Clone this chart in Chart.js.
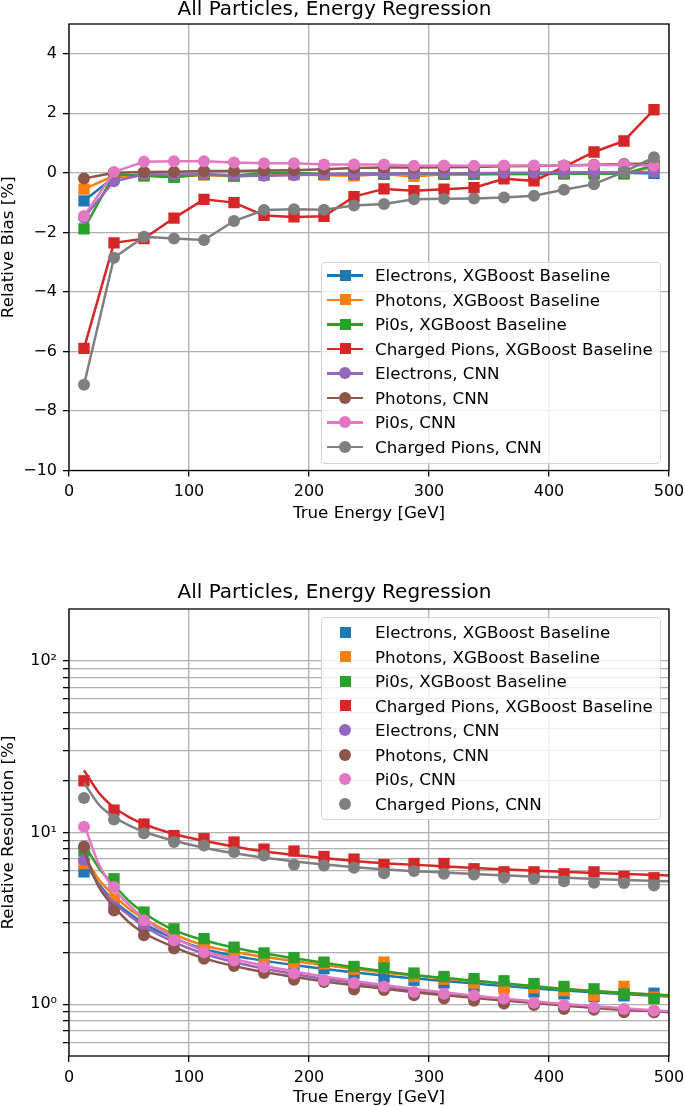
<!DOCTYPE html>
<html>
<head>
<meta charset="utf-8">
<script src="https://cdn.jsdelivr.net/npm/chart.js@4.4.1/dist/chart.umd.min.js"></script>
<style>
  body { margin: 0; background: #fff; width: 685px; height: 1107px; overflow: hidden; position: relative; font-family: 'DejaVu Sans', sans-serif; }
  canvas { position: absolute; left: 0; }
  .legend { position: absolute; left: 321px; width: 338px; border: 1px solid #d4d4d4; border-radius: 4px; background: rgba(255,255,255,0.8); }
  .row { position: absolute; left: 0; width: 100%; height: 24px; }
  .row .ln { position: absolute; left: 5px; top: 11px; width: 36px; height: 2.5px; }
  .row .mk { position: absolute; }
  .row .tx { position: absolute; left: 53px; top: 0; line-height: 24px; font-size: 16.7px; color: #000; white-space: nowrap; }
</style>
</head>
<body>
<canvas id="biasChart" width="685" height="527" style="top:0"></canvas>
<canvas id="resChart" width="685" height="538" style="top:570px"></canvas>
<div class="legend" id="biasLegend" style="top:262px;height:200px"></div>
<div class="legend" id="resLegend" style="top:617px;height:201px"></div>
<script>
// energy bins (GeV)
const energyBins = [12.5, 37.5, 62.5, 87.5, 112.5, 137.5, 162.5, 187.5, 212.5, 237.5,
                    262.5, 287.5, 312.5, 337.5, 362.5, 387.5, 412.5, 437.5, 462.5, 487.5];

const seriesLabels = ['Electrons, XGBoost Baseline', 'Photons, XGBoost Baseline', 'Pi0s, XGBoost Baseline',
                      'Charged Pions, XGBoost Baseline', 'Electrons, CNN', 'Photons, CNN', 'Pi0s, CNN', 'Charged Pions, CNN'];
const seriesColors = ['#1f77b4', '#ff7f0e', '#2ca02c', '#d62728', '#9467bd', '#8c564b', '#e377c2', '#7f7f7f'];
const seriesMarkers = ['rect', 'rect', 'rect', 'rect', 'circle', 'circle', 'circle', 'circle'];

// relative bias [%]
const biasElecXgb = [-0.94, -0.15, -0.05, -0.1, -0.05, -0.12, -0.08, -0.06, -0.05, -0.03, -0.03, -0.02, -0.03, -0.02, -0.02, -0.01, 0, 0, 0, -0.02];
const biasPhotXgb = [-0.55, -0.1, -0.1, -0.12, -0.08, -0.1, -0.05, -0.05, -0.08, -0.1, -0.05, -0.12, -0.05, -0.05, -0.05, -0.05, -0.03, -0.03, -0.03, 0.2];
const biasPi0Xgb = [-1.88, -0.05, -0.1, -0.15, -0.05, -0.1, 0.0, 0.0, -0.05, -0.05, -0.05, -0.02, -0.05, -0.05, -0.03, -0.03, -0.03, -0.03, -0.03, 0.25];
const biasPionXgb = [-5.9, -2.35, -2.21, -1.52, -0.89, -1.0, -1.43, -1.48, -1.46, -0.8, -0.54, -0.6, -0.55, -0.5, -0.2, -0.27, 0.2, 0.7, 1.07, 2.12];
const biasElecCnn = [-1.5, -0.28, -0.06, -0.06, -0.05, -0.08, -0.1, -0.08, -0.05, -0.04, -0.03, -0.02, -0.01, -0.01, 0, 0, 0.01, 0.02, 0.02, 0.03];
const biasPhotCnn = [-0.19, 0.0, 0.03, 0.04, 0.06, 0.06, 0.08, 0.09, 0.12, 0.16, 0.18, 0.18, 0.19, 0.2, 0.22, 0.23, 0.25, 0.27, 0.3, 0.31];
const biasPi0Cnn = [-1.45, 0.03, 0.37, 0.39, 0.39, 0.35, 0.32, 0.32, 0.28, 0.28, 0.28, 0.24, 0.25, 0.24, 0.25, 0.25, 0.25, 0.26, 0.27, 0.24];
const biasPionCnn = [-7.12, -2.85, -2.15, -2.21, -2.26, -1.62, -1.25, -1.22, -1.24, -1.1, -1.05, -0.89, -0.87, -0.86, -0.83, -0.77, -0.57, -0.38, 0.03, 0.52];

// relative resolution [%]
const resElecXgb = [5.9, 3.9, 2.85, 2.4, 2.15, 1.97, 1.82, 1.69, 1.61, 1.51, 1.44, 1.38, 1.33, 1.27, 1.27, 1.18, 1.15, 1.11, 1.12, 1.16];
const resPhotXgb = [6.6, 4.1, 2.95, 2.5, 2.25, 2.05, 1.88, 1.75, 1.72, 1.6, 1.76, 1.45, 1.4, 1.33, 1.23, 1.25, 1.2, 1.13, 1.27, 1.1];
const resPi0Xgb = [7.8, 5.38, 3.44, 2.75, 2.41, 2.15, 1.99, 1.87, 1.76, 1.66, 1.63, 1.52, 1.45, 1.41, 1.37, 1.32, 1.27, 1.23, 1.15, 1.08];
const resPionXgb = [20.0, 13.5, 11.2, 9.6, 9.2, 8.8, 8.0, 7.8, 7.25, 7.0, 6.5, 6.6, 6.6, 6.15, 5.9, 5.9, 5.75, 5.9, 5.55, 5.45];
const resElecCnn = [6.9, 3.7, 2.8, 2.3, 1.95, 1.75, 1.6, 1.47, 1.37, 1.28, 1.24, 1.16, 1.12, 1.1, 1.05, 1.0, 0.97, 0.95, 0.92, 0.9];
const resPhotCnn = [8.3, 3.52, 2.52, 2.11, 1.84, 1.67, 1.52, 1.39, 1.35, 1.22, 1.21, 1.13, 1.08, 1.05, 1.01, 0.99, 0.94, 0.93, 0.9, 0.9];
const resPi0Cnn = [10.8, 4.81, 3.08, 2.36, 2.01, 1.8, 1.65, 1.51, 1.38, 1.33, 1.27, 1.18, 1.15, 1.13, 1.08, 1.02, 0.99, 0.96, 0.94, 0.92];
const resPionCnn = [15.9, 11.9, 9.9, 8.8, 8.4, 7.7, 7.35, 6.5, 6.43, 6.23, 5.8, 5.96, 5.75, 5.7, 5.45, 5.38, 5.21, 5.1, 5.08, 4.92];

// fitted resolution curves
const fitEnergy = [12.5, 25, 37.5, 50, 62.5, 87.5, 112.5, 150, 200, 250, 300, 350, 400, 450, 500];
const fitElecXgb = [6.8, 5.0, 4.0, 3.4, 2.95, 2.42, 2.1, 1.85, 1.65, 1.5, 1.39, 1.3, 1.22, 1.16, 1.11];
const fitPhotXgb = [7.3, 5.3, 4.3, 3.6, 3.15, 2.55, 2.2, 1.95, 1.74, 1.57, 1.44, 1.34, 1.25, 1.18, 1.12];
const fitPi0Xgb = [8.6, 6.2, 4.95, 4.0, 3.4, 2.7, 2.36, 2.05, 1.8, 1.6, 1.45, 1.35, 1.25, 1.18, 1.13];
const fitPionXgb = [23, 17, 14, 12.3, 11.2, 9.8, 8.95, 8.0, 7.25, 6.72, 6.42, 6.15, 5.95, 5.78, 5.62];
const fitElecCnn = [7.2, 4.9, 3.9, 3.3, 2.85, 2.3, 1.97, 1.68, 1.45, 1.3, 1.18, 1.09, 1.01, 0.95, 0.9];
const fitPhotCnn = [7.8, 4.8, 3.7, 3.0, 2.6, 2.15, 1.85, 1.6, 1.4, 1.26, 1.15, 1.07, 1.0, 0.94, 0.9];
const fitPi0Cnn = [11.2, 6.5, 4.7, 3.8, 3.15, 2.45, 2.05, 1.75, 1.5, 1.33, 1.2, 1.1, 1.02, 0.96, 0.91];
const fitPionCnn = [19.5, 14.5, 12.3, 11, 10.1, 8.95, 8.15, 7.35, 6.65, 6.2, 5.9, 5.68, 5.5, 5.33, 5.2];

const biasSeries = [biasElecXgb, biasPhotXgb, biasPi0Xgb, biasPionXgb, biasElecCnn, biasPhotCnn, biasPi0Cnn, biasPionCnn];
const resSeries = [resElecXgb, resPhotXgb, resPi0Xgb, resPionXgb, resElecCnn, resPhotCnn, resPi0Cnn, resPionCnn];
const fitSeries = [fitElecXgb, fitPhotXgb, fitPi0Xgb, fitPionXgb, fitElecCnn, fitPhotCnn, fitPi0Cnn, fitPionCnn];

const xTicks = [0, 100, 200, 300, 400, 500];
const logTicks = [0.6, 0.7, 0.8, 0.9, 1, 2, 3, 4, 5, 6, 7, 8, 9, 10, 20, 30, 40, 50, 60, 70, 80, 90, 100];
const logLabels = { 1: '10\u2070', 10: '10\u00b9', 100: '10\u00b2' };

const FONT = 'DejaVu Sans';
const GRID = '#b0b0b0';

function toPoints(xs, ys) {
  return xs.map((x, i) => ({ x: x, y: ys[i] }));
}
function markerRadius(style) {
  return style === 'rect' ? 8 : 6;
}

// black frame around the plot area
const framePlugin = {
  id: 'frame',
  afterDatasetsDraw(chart) {
    const a = chart.chartArea;
    const ctx = chart.ctx;
    ctx.save();
    ctx.strokeStyle = '#000';
    ctx.lineWidth = 1.3;
    ctx.strokeRect(a.left, a.top, a.right - a.left, a.bottom - a.top);
    ctx.restore();
  }
};

function xAxis(height, titlePad) {
  return {
    type: 'linear', min: 0, max: 500,
    afterBuildTicks: s => { s.ticks = xTicks.map(v => ({ value: v })); },
    afterFit: s => { s.height = height; s.paddingLeft = 0; s.paddingRight = 0; },
    grid: { color: GRID, lineWidth: 1.3, tickColor: '#000', tickLength: 6, drawTicks: true },
    border: { display: false },
    ticks: { color: '#000', padding: 6, font: { family: FONT, size: 16 }, maxRotation: 0 },
    title: { display: true, text: 'True Energy [GeV]', color: '#000', font: { family: FONT, size: 16.7, lineHeight: 1.2 }, padding: { top: 0, bottom: titlePad } }
  };
}

function titleOpts(padTop, padBottom) {
  return {
    display: true, text: 'All Particles, Energy Regression', color: '#000',
    font: { family: FONT, size: 20, weight: 'normal', lineHeight: 1.0 },
    padding: { top: padTop, bottom: padBottom }
  };
}

// ---- bias chart
const biasDatasets = biasSeries.map((arr, i) => ({
  label: seriesLabels[i],
  data: toPoints(energyBins, arr),
  borderColor: seriesColors[i],
  backgroundColor: seriesColors[i],
  borderWidth: 2.5,
  pointStyle: seriesMarkers[i],
  pointRadius: markerRadius(seriesMarkers[i]),
  pointBorderWidth: 0,
  showLine: true,
  tension: 0,
  order: biasSeries.length - i
}));

new Chart(document.getElementById('biasChart'), {
  type: 'scatter',
  data: { datasets: biasDatasets },
  options: {
    responsive: false,
    animation: false,
    layout: { padding: { left: 0, right: 16, top: 0, bottom: 0 } },
    scales: {
      x: xAxis(56.5, 3.5),
      y: {
        type: 'linear', min: -10, max: 5,
        afterBuildTicks: s => { s.ticks = [-10, -8, -6, -4, -2, 0, 2, 4].map(v => ({ value: v })); },
        afterFit: s => { s.width = 69; },
        grid: { color: GRID, lineWidth: 1.3, tickColor: '#000', tickLength: 6 },
        border: { display: false },
        ticks: { color: '#000', padding: 6, font: { family: FONT, size: 16 },
                 callback: v => (v < 0 ? '\u2212' + Math.abs(v) : String(v)) },
        title: { display: true, text: 'Relative Bias [%]', color: '#000', font: { family: FONT, size: 16.7, lineHeight: 1.0 }, padding: { top: 0, bottom: 0 } }
      }
    },
    plugins: {
      legend: { display: false },
      tooltip: { enabled: false },
      title: titleOpts(0, 4)
    }
  },
  plugins: [framePlugin]
});

// ---- resolution chart
const resDatasets = [];
resSeries.forEach((arr, i) => {
  resDatasets.push({
    label: seriesLabels[i],
    data: toPoints(energyBins, arr),
    backgroundColor: seriesColors[i],
    borderColor: seriesColors[i],
    pointStyle: seriesMarkers[i],
    pointRadius: markerRadius(seriesMarkers[i]),
    pointBorderWidth: 0,
    showLine: false
  });
  resDatasets.push({
    label: seriesLabels[i] + ' fit',
    data: toPoints(fitEnergy, fitSeries[i]),
    borderColor: seriesColors[i],
    backgroundColor: seriesColors[i],
    borderWidth: 2.5,
    pointRadius: 0,
    showLine: true,
    cubicInterpolationMode: 'monotone'
  });
});
resDatasets.forEach((d, i) => { d.order = resDatasets.length - i; });

new Chart(document.getElementById('resChart'), {
  type: 'scatter',
  data: { datasets: resDatasets },
  options: {
    responsive: false,
    animation: false,
    layout: { padding: { left: 0, right: 16, top: 0, bottom: 0 } },
    scales: {
      x: xAxis(52, 0),
      y: {
        type: 'logarithmic', min: 0.5, max: 200,
        afterBuildTicks: s => { s.ticks = logTicks.map(v => ({ value: v })); },
        afterFit: s => { s.width = 69; },
        grid: { color: GRID, lineWidth: 1.3, tickColor: '#000', tickLength: 6 },
        border: { display: false },
        ticks: { color: '#000', padding: 6, autoSkip: false, font: { family: FONT, size: 16 },
                 callback: v => logLabels[v] || '' },
        title: { display: true, text: 'Relative Resolution [%]', color: '#000', font: { family: FONT, size: 16.7, lineHeight: 1.0 }, padding: { top: 0, bottom: 0 } }
      }
    },
    plugins: {
      legend: { display: false },
      tooltip: { enabled: false },
      title: titleOpts(13, 6)
    }
  },
  plugins: [framePlugin]
});

// ---- legends (HTML)
function buildLegend(id, firstRowCenter, withLine) {
  const box = document.getElementById(id);
  seriesLabels.forEach((label, i) => {
    const row = document.createElement('div');
    row.className = 'row';
    row.style.top = (firstRowCenter + i * 24.5 - 12) + 'px';
    if (withLine) {
      const ln = document.createElement('div');
      ln.className = 'ln';
      ln.style.background = seriesColors[i];
      row.appendChild(ln);
    }
    const mk = document.createElement('div');
    mk.className = 'mk';
    const size = seriesMarkers[i] === 'rect' ? 11 : 12;
    mk.style.width = size + 'px';
    mk.style.height = size + 'px';
    mk.style.left = (23 - size / 2) + 'px';
    mk.style.top = (12.2 - size / 2) + 'px';
    mk.style.background = seriesColors[i];
    if (seriesMarkers[i] === 'circle') mk.style.borderRadius = '50%';
    row.appendChild(mk);
    const tx = document.createElement('span');
    tx.className = 'tx';
    tx.textContent = label;
    row.appendChild(tx);
    box.appendChild(row);
  });
}
buildLegend('biasLegend', 12, true);
buildLegend('resLegend', 14, false);
</script>
</body>
</html>
